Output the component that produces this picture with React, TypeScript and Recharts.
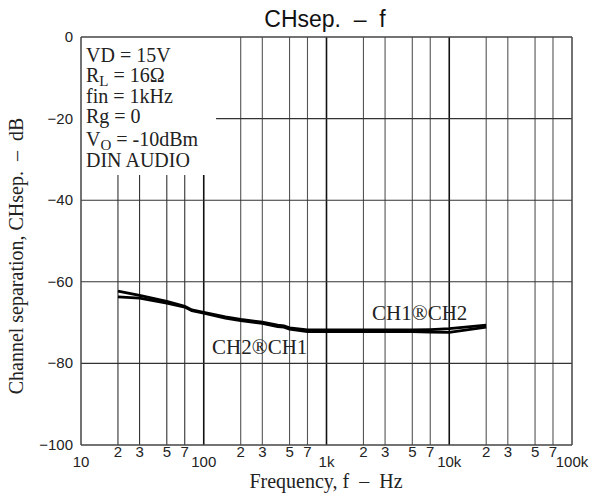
import React from 'react'
import { LineChart, Line, XAxis, YAxis, ReferenceLine } from 'recharts'

const SANS = "'Liberation Sans', Arial, Helvetica, sans-serif"
const SERIF = "'Liberation Serif', 'Times New Roman', serif"

// measured curves, frequency in Hz, separation in dB
const FREQ = [20, 30, 50, 70, 80, 100, 150, 200, 300, 400, 450, 500, 700, 1000, 2000, 5000, 7000, 10000, 20000]
const CH1_TO_CH2 = [-62.3, -63.3, -64.8, -66.0, -66.9, -67.5, -68.6, -69.2, -69.9, -70.6, -70.8, -71.3, -71.8, -71.8, -71.8, -71.8, -71.7, -71.5, -70.6]
const CH2_TO_CH1 = [-63.7, -64.0, -65.2, -66.2, -67.1, -67.7, -68.9, -69.5, -70.2, -71.0, -71.1, -71.6, -72.2, -72.2, -72.2, -72.2, -72.3, -72.4, -71.1]

const X_TICKS = [10, 20, 30, 50, 70, 100, 200, 300, 500, 700, 1000, 2000, 3000, 5000, 7000, 10000, 20000, 30000, 50000, 70000, 100000]
const DECADES = [10, 100, 1000, 10000, 100000]
const DECADE_LABELS = ['10', '100', '1k', '10k', '100k']
const Y_TICKS = [0, -20, -40, -60, -80, -100]

// grid lines partly hidden behind the conditions box
const BOX_LINES = [20, 30, 50, 70, 100]
const BOX_BOTTOM = -33.8
const BOX_RIGHT = 126

const data = FREQ.map((f, i) => ({ f, a: CH1_TO_CH2[i], b: CH2_TO_CH1[i] }))

const FreqTick = (props: any) => {
    const { x, y, payload } = props
    const v = payload.value
    const d = DECADES.indexOf(v)
    const label = d >= 0 ? DECADE_LABELS[d] : String(v).charAt(0)
    return (
        <text x={x} y={y} dy={d >= 0 ? 14 : 4} textAnchor="middle" fontFamily={SANS} fontSize={15} fill="#222">
            {label}
        </text>
    )
}

const SepTick = (props: any) => {
    const { x, y, payload } = props
    return (
        <text x={x} y={y} dy={5} textAnchor="end" fontFamily={SANS} fontSize={15} fill="#222">
            {String(payload.value).replace('-', '\u2212')}
        </text>
    )
}

export default function App() {
    return (
        <div style={{ position: 'absolute', left: 0, top: 0, width: 590, height: 501, background: '#fff' }}>
            <LineChart width={590} height={501} data={data} margin={{ top: 37, right: 18, bottom: 26, left: 41 }}>
                <XAxis
                    dataKey="f"
                    type="number"
                    scale="log"
                    domain={[10, 100000]}
                    ticks={X_TICKS}
                    interval={0}
                    axisLine={false}
                    tickLine={false}
                    height={30}
                    tick={<FreqTick />}
                    allowDataOverflow
                />
                <YAxis
                    type="number"
                    domain={[-100, 0]}
                    ticks={Y_TICKS}
                    interval={0}
                    width={40}
                    axisLine={false}
                    tickLine={false}
                    tick={<SepTick />}
                />

                {/* vertical grid */}
                {X_TICKS.filter((v) => v !== 10 && v !== 100000).map((v) =>
                    BOX_LINES.includes(v) ? (
                        <ReferenceLine
                            key={'v' + v}
                            segment={[{ x: v, y: BOX_BOTTOM }, { x: v, y: -100 }]}
                            stroke={DECADES.includes(v) ? '#111' : '#333'}
                            strokeWidth={DECADES.includes(v) ? 1.6 : 1.1}
                        />
                    ) : (
                        <ReferenceLine
                            key={'v' + v}
                            x={v}
                            stroke={DECADES.includes(v) ? '#111' : '#555'}
                            strokeWidth={DECADES.includes(v) ? 1.6 : 1.1}
                        />
                    )
                )}

                {/* horizontal grid */}
                <ReferenceLine segment={[{ x: BOX_RIGHT, y: -20 }, { x: 100000, y: -20 }]} stroke="#333" strokeWidth={1.1} />
                {[-40, -60, -80].map((v) => (
                    <ReferenceLine key={'h' + v} y={v} stroke="#333" strokeWidth={1.1} />
                ))}

                {/* frame */}
                <ReferenceLine x={10} stroke="#444" strokeWidth={1.5} />
                <ReferenceLine x={100000} stroke="#444" strokeWidth={1.5} />
                <ReferenceLine y={0} stroke="#444" strokeWidth={1.5} />
                <ReferenceLine y={-100} stroke="#444" strokeWidth={1.5} />

                <Line dataKey="a" type="linear" stroke="#000" strokeWidth={2.8} dot={false} isAnimationActive={false} />
                <Line dataKey="b" type="linear" stroke="#000" strokeWidth={2.8} dot={false} isAnimationActive={false} />
            </LineChart>

            <svg width={590} height={501} style={{ position: 'absolute', left: 0, top: 0, pointerEvents: 'none' }}>
                <text x={325} y={27} textAnchor="middle" fontFamily={SANS} fontSize={23} fill="#111" style={{ whiteSpace: 'pre' }}>
                    {'CHsep.  \u2013  f'}
                </text>

                <text
                    transform="translate(23, 256) rotate(-90)"
                    textAnchor="middle"
                    fontFamily={SERIF}
                    fontSize={20}
                    fill="#222"
                    style={{ whiteSpace: 'pre' }}
                >
                    {'Channel separation, CHsep.  \u2013  dB'}
                </text>
                <text x={326} y={488} textAnchor="middle" fontFamily={SERIF} fontSize={20} fill="#222" style={{ whiteSpace: 'pre' }}>
                    {'Frequency, f  \u2013  Hz'}
                </text>

                <g fontFamily={SERIF} fontSize={20} fill="#222">
                    <text x={86} y={62}>VD = 15V</text>
                    <text x={86} y={82}>
                        R<tspan fontSize={15} dy={4}>L</tspan>
                        <tspan dy={-4}> = 16Ω</tspan>
                    </text>
                    <text x={86} y={103}>fin = 1kHz</text>
                    <text x={86} y={123}>Rg = 0</text>
                    <text x={86} y={146}>
                        V<tspan fontSize={15} dy={4}>O</tspan>
                        <tspan dy={-4}> = -10dBm</tspan>
                    </text>
                    <text x={86} y={167}>DIN AUDIO</text>
                </g>
                <g fontFamily={SERIF} fontSize={21} fill="#222">
                    <text x={372} y={320}>CH1®CH2</text>
                    <text x={212} y={354}>CH2®CH1</text>
                </g>
            </svg>
        </div>
    )
}
